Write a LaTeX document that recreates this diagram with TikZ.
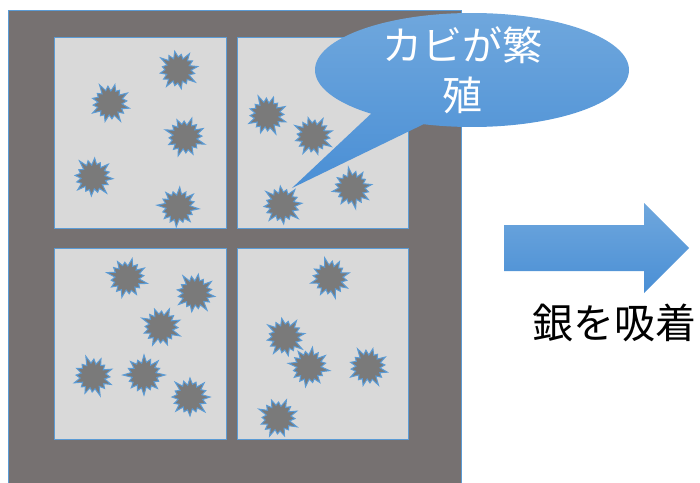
\documentclass[tikz,border=0pt]{standalone}
\usepackage{fontspec}
\newfontfamily\jpfont{Noto Sans CJK JP}
\usetikzlibrary{shapes.callouts}

\definecolor{framegray}{HTML}{767171}
\definecolor{panegray}{HTML}{D9D9D9}
\definecolor{edgeblue}{HTML}{5B9BD5}
\definecolor{moldgray}{HTML}{7A7A7A}
\definecolor{lightblue}{HTML}{6FA7DD}
\definecolor{deepblue}{HTML}{4A8FD5}

\tikzset{
	pane/.style={fill=panegray, draw=edgeblue, line width=1pt},
	moldspot/.style={fill=moldgray, draw=edgeblue, line width=1pt, line join=miter},
	bluegrad/.style={top color=lightblue, bottom color=deepblue},
	% one irregular spiky blot
	mold/.pic={
		\filldraw[moldspot] (0:20) \foreach \a/\r in {11/13,22/17,34/12,45/21,56/13,68/16,79/12,90/19,101/13,112/16,124/12,135/20,146/13,158/17,169/12,180/18,191/13,202/16,214/12,225/21,236/13,248/17,259/12,270/19,281/13,292/16,304/12,315/20,326/13,338/17,349/12} { -- (\a:\r) } -- cycle;
	}
}

\begin{document}
\begin{tikzpicture}[x=1pt,y=-1pt]

	\useasboundingbox (0,0) rectangle (700,482);
	\clip (0,0) rectangle (700,482);

	% save coordinates for later
	\coordinate (tip) at (292,188);

	% window frame and its four panes
	\filldraw[fill=framegray, draw=edgeblue, line width=1pt] (8,10) rectangle (461,500);
	\draw[pane] (54,37) rectangle (226,228);
	\draw[pane] (237,37) rectangle (408,228);
	\draw[pane] (54,248) rectangle (226,439);
	\draw[pane] (237,248) rectangle (408,439);

	% mold on the glass
	\foreach \x/\y/\r in {178/70/10, 110/103/-15, 185/137/25, 93/177/-5, 178/207/40,
			267/115/-20, 313/136/15, 352/188/-35, 282/205/5,
			127/278/30, 195/293/-10, 161/327/20, 93/376/-25, 144/375/45, 190/397/0,
			330/278/-30, 285/337/10, 309/367/35, 368/367/-15, 278/418/20}
		\pic[rotate=\r] at (\x,\y) {mold};

	% speech bubble pointing at one blot
	\node[ellipse callout, bluegrad, minimum width=314pt, minimum height=114pt, inner sep=0pt,
		callout absolute pointer={(tip)}, callout pointer arc=22] (bubble) at (472,70) {};
	\node[text=white, align=center, xshift=-10pt, font=\jpfont\fontsize{40}{50}\selectfont] (moldtext) at (bubble.center) {カビが繁\\殖};

	% block arrow
	\shade[bluegrad] (504,225) -- (644,225) -- (644,203) -- (689,248) -- (644,293) -- (644,271) -- (504,271) -- cycle;
	\node[font=\jpfont\fontsize{41}{41}\selectfont] (silver) at (614,323) {銀を吸着};

\end{tikzpicture}
\end{document}
